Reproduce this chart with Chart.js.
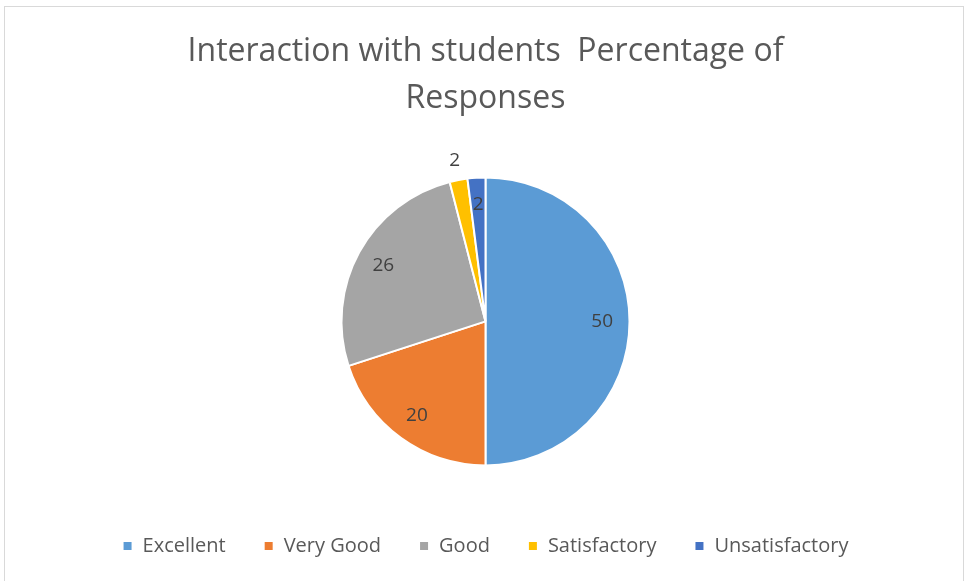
<!DOCTYPE html>
<html>
<head>
<meta charset="utf-8">
<script src="https://cdn.jsdelivr.net/npm/chart.js@4.4.0/dist/chart.umd.min.js"></script>
<style>
  html, body { margin: 0; padding: 0; background: #fff; }
  #wrap { position: relative; width: 965px; height: 581px; overflow: hidden; }
  #frame { position: absolute; left: 4px; top: 6px; width: 958px; height: 590px; border: 1px solid #d9d9d9; }
  canvas { position: absolute; left: 0; top: 0; }
</style>
</head>
<body>
<div id="wrap">
  <div id="frame"></div>
  <canvas id="pieChart" width="965" height="581"></canvas>
</div>
<script>
const labels = ["Excellent", "Very Good", "Good", "Satisfactory", "Unsatisfactory"];
const values = [50, 20, 26, 2, 2];
const colors = ["#5b9bd5", "#ed7d31", "#a5a5a5", "#ffc000", "#4472c4"];
const titleLines = ["Interaction with students  Percentage of", "Responses"];
// label distance as fraction of radius (values > 1 sit outside the slice)
const labelRadius = [0.81, 0.81, 0.81, 1.14, 0.81];

// draws the value labels on the slices
const sliceLabels = {
  id: "sliceLabels",
  afterDatasetsDraw(chart) {
    const ctx = chart.ctx;
    const meta = chart.getDatasetMeta(0);
    ctx.save();
    ctx.font = "19px 'Open Sans', sans-serif";
    ctx.fillStyle = "#404040";
    ctx.textAlign = "center";
    ctx.textBaseline = "middle";
    meta.data.forEach((arc, i) => {
      const p = arc.getProps(["x", "y", "startAngle", "endAngle", "outerRadius"], true);
      const mid = (p.startAngle + p.endAngle) / 2;
      const r = p.outerRadius * labelRadius[i];
      ctx.fillText(String(values[i]), p.x + Math.cos(mid) * r, p.y + Math.sin(mid) * r);
    });
    ctx.restore();
  },
};

const ctx = document.getElementById("pieChart").getContext("2d");
new Chart(ctx, {
  type: "pie",
  data: {
    labels: labels,
    datasets: [
      {
        data: values,
        backgroundColor: colors,
        borderColor: "#ffffff",
        borderWidth: 2,
        radius: 144,
      },
    ],
  },
  options: {
    responsive: false,
    animation: false,
    layout: { padding: { top: 0, bottom: 15, left: 6, right: 0 } },
    plugins: {
      title: {
        display: true,
        text: titleLines,
        color: "#595959",
        font: { family: "'Open Sans', sans-serif", size: 32, weight: "normal", lineHeight: 1.45 },
        padding: { top: 29, bottom: 23 },
      },
      legend: {
        position: "bottom",
        labels: {
          color: "#595959",
          font: { family: "'Open Sans', sans-serif", size: 20 },
          boxWidth: 10,
          boxHeight: 10,
          padding: 38,
        },
      },
      tooltip: { enabled: false },
    },
  },
  plugins: [sliceLabels],
});
</script>
</body>
</html>
